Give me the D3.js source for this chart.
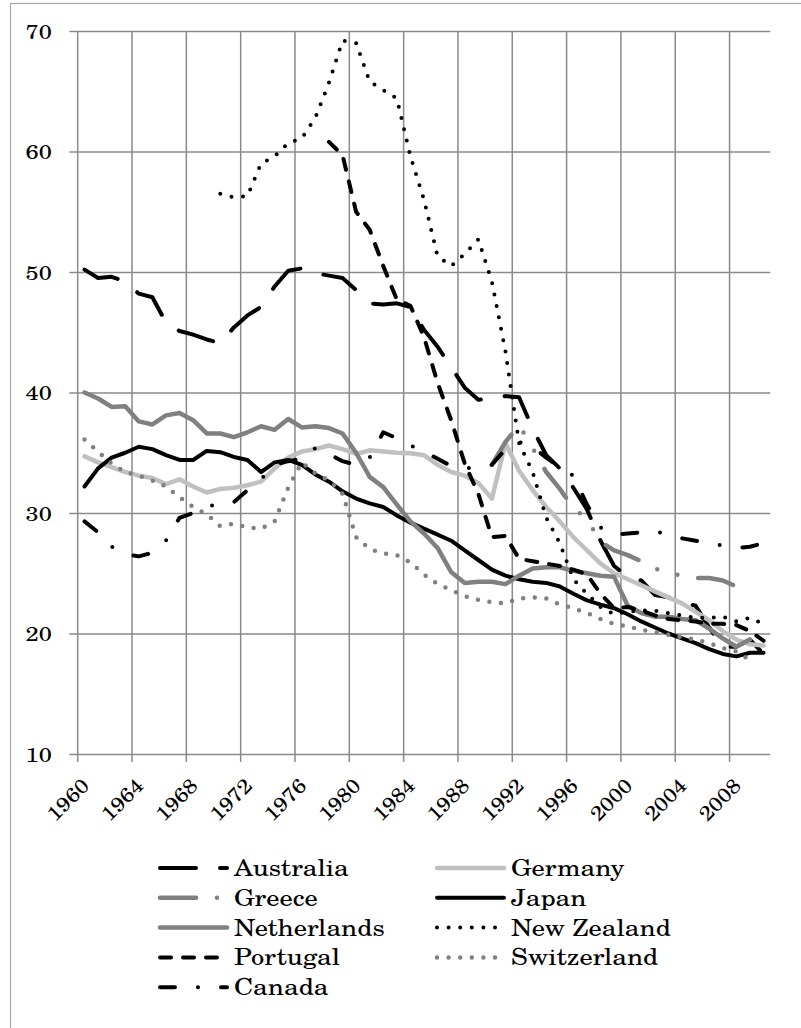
<!DOCTYPE html>
<html><head><meta charset="utf-8">
<script src="https://cdn.jsdelivr.net/npm/d3@7/dist/d3.min.js"></script>
<style>
body{margin:0;background:#fff}
svg{display:block}
</style>
</head><body>
<svg id="chart" width="801" height="1028"></svg>
<script>
// ---- data ----
const years = d3.range(1960, 2011);
const yTickValues = [10, 20, 30, 40, 50, 60, 70];
const xTickLabels = ["1960","1964","1968","1972","1976","1980","1984","1988","1992","1996","2000","2004","2008"];

const australia = [50.2,49.5,49.6,49.2,48.2,47.9,45.8,45.1,44.8,44.4,44.1,45.4,46.4,47.1,48.8,50.1,50.3,49.9,49.7,49.5,48.5,47.4,47.3,47.4,47.1,45.2,43.8,42.1,40.4,39.4,39.5,39.7,39.6,37.0,34.8,33.7,32.1,30.3,27.7,25.6,24.7,24.4,23.2,23.0,22.6,22.3,20.5,18.9,18.9,19.5,18.3];
const germany = [34.7,34.2,33.8,33.4,33.1,32.9,32.4,32.8,32.2,31.7,32.0,32.1,32.3,32.6,33.7,34.6,35.1,35.3,35.6,35.3,34.9,35.2,35.1,35.0,34.95,34.8,34.0,33.4,33.1,32.5,31.2,35.8,33.5,31.9,30.5,29.3,28.0,26.9,25.8,25.0,24.5,24.0,23.5,23.0,22.5,21.8,21.1,20.2,19.5,19.1,19.0];
const greece = [null,null,null,null,null,null,null,null,null,null,null,null,null,null,null,null,null,null,null,null,null,null,null,null,null,null,null,null,null,null,34.0,35.9,37.3,35.4,33.4,32.0,30.4,29.5,27.6,26.9,26.5,26.0,25.4,25.0,24.8,24.6,24.6,24.4,23.9,null,null];
const japan = [32.2,33.7,34.6,35.0,35.5,35.3,34.8,34.4,34.4,35.15,35.05,34.65,34.4,33.4,34.2,34.4,34.0,33.2,32.6,31.8,31.2,30.8,30.5,29.8,29.2,28.7,28.2,27.7,26.9,26.1,25.3,24.8,24.5,24.3,24.2,23.9,23.3,22.75,22.4,22.1,21.6,21.0,20.5,20.0,19.6,19.2,18.7,18.3,18.1,18.4,18.4];
const netherlands = [40.0,39.5,38.8,38.85,37.6,37.35,38.1,38.3,37.7,36.6,36.6,36.3,36.7,37.2,36.9,37.8,37.1,37.2,37.05,36.6,35.0,33.0,32.15,30.7,29.3,28.3,27.1,25.1,24.2,24.3,24.3,24.1,24.8,25.4,25.5,25.5,25.2,25.0,24.8,24.7,22.3,21.7,21.4,21.4,21.2,21.1,20.4,19.6,18.9,19.5,null];
const newZealand = [null,null,null,null,null,null,null,null,null,null,56.5,56.2,56.3,59.0,59.6,60.7,61.1,62.8,65.7,69.2,69.0,65.8,65.1,64.4,59.6,56.0,51.3,50.5,51.5,52.7,49.2,43.4,35.8,33.4,29.6,27.5,24.5,23.3,22.2,21.6,21.8,21.9,21.9,21.7,21.5,21.3,21.3,21.4,21.0,21.3,20.8];
const portugal = [null,null,null,null,null,null,null,null,null,null,null,null,null,null,null,null,null,null,60.8,59.7,55.0,53.5,50.5,47.7,47.2,44.6,40.8,37.7,34.1,31.6,28.0,28.1,26.2,26.0,25.8,25.6,25.3,24.9,23.3,22.1,22.2,21.9,21.5,21.2,21.1,21.0,20.8,20.8,20.7,20.2,19.4];
const switzerland = [36.1,35.1,34.1,33.4,33.1,32.7,32.2,31.3,30.5,29.9,28.9,29.1,28.8,28.7,29.3,32.1,34.2,33.3,32.7,31.6,28.0,27.0,26.65,26.5,25.9,24.9,24.1,23.6,23.1,22.8,22.6,22.5,22.9,23.0,22.9,22.4,22.1,21.7,21.2,20.8,20.6,20.3,20.1,19.9,19.7,19.5,19.2,18.8,18.5,17.8,null];
const canada = [29.3,28.4,27.2,26.6,26.4,26.7,27.7,29.6,30.0,30.5,30.8,30.9,31.9,32.8,34.0,34.3,34.5,35.4,34.9,34.3,34.0,34.6,36.7,36.2,35.6,35.1,34.5,33.9,33.7,33.8,34.0,35.3,35.9,35.5,34.6,33.8,33.1,30.7,28.8,28.2,28.3,28.4,28.5,28.2,27.9,27.7,27.5,27.3,27.1,27.2,27.5];

const seriesNames = ["Australia","Germany","Greece","Japan","Netherlands","New Zealand","Portugal","Switzerland","Canada"];
const seriesValues = [australia, germany, greece, japan, netherlands, newZealand, portugal, switzerland, canada];
const seriesStyles = [
  {color:"#000000", width:4,   dash:"36,24"},
  {color:"#c0c0c0", width:4.5, dash:null},
  {color:"#808080", width:4.5, dash:"36,21,0,21,0,21"},
  {color:"#000000", width:4,   dash:null},
  {color:"#808080", width:4.5, dash:null},
  {color:"#000000", width:4,   dash:"0,11.6"},
  {color:"#000000", width:4,   dash:"11,12"},
  {color:"#808080", width:4.5, dash:"0,11.6"},
  {color:"#000000", width:4,   dash:"15,23,0,23"}
];

const FONT = "'TeX Gyre Schola','Century Schoolbook L','Liberation Serif',serif";

function stretch(sel, factor) {
  sel.each(function () {
    const L = this.getComputedTextLength();
    d3.select(this).attr("textLength", L * factor).attr("lengthAdjust", "spacingAndGlyphs");
  });
}

// ---- layout ----
const svg = d3.select("#chart");
const plotL = 77.7, plotR = 770.3, plotT = 31, plotB = 754;

svg.append("rect").attr("x",10.5).attr("y",3.5).attr("width",1000).attr("height",1100)
  .attr("fill","none").attr("stroke","#a6a6a6").attr("stroke-width",1.2);

const x = d3.scaleBand().domain(years).range([plotL, plotR]).paddingInner(0).paddingOuter(0);
const y = d3.scaleLinear().domain([10, 70]).range([plotB, plotT]);
const gridColor = "#8a8a8a";

// horizontal gridlines + y ticks/labels
const yAxis = d3.axisLeft(y).tickValues(yTickValues).tickSize(plotR - plotL + 8.4).tickPadding(17).tickFormat(d3.format("d"));
const gy = svg.append("g").attr("transform", `translate(${plotR},0)`).call(yAxis);
gy.attr("font-family", FONT).attr("font-size", 20);
gy.select(".domain").remove();
gy.selectAll(".tick line").attr("stroke", gridColor).attr("stroke-width", 1.5);
const yLabels = gy.selectAll(".tick text").attr("font-family", FONT).attr("font-size", 20)
  .attr("x", -(plotR - 51.8)).attr("dy", null).attr("y", 7.3).attr("text-anchor","end").attr("fill","#000");
stretch(yLabels, 1.18);

// vertical gridlines at every 4th category boundary
const gridYears = years.filter(d => (d - 1960) % 4 === 0);
svg.append("g").selectAll("line").data(gridYears).join("line")
  .attr("x1", d => x(d)).attr("x2", d => x(d))
  .attr("y1", plotT).attr("y2", plotB + 8)
  .attr("stroke", gridColor).attr("stroke-width", 1.5);

// x labels (rotated)
const xLabels = svg.append("g").selectAll("text").data(xTickLabels).join("text")
  .attr("transform", d => `translate(${x(+d) + x.bandwidth()/2 + 6},${plotB + 33}) rotate(-45)`)
  .attr("text-anchor", "end").attr("font-family", FONT).attr("font-size", 20).attr("fill","#000").text(d => d);
stretch(xLabels, 1.12);

// lines
const line = d3.line()
  .defined(d => d[1] !== null)
  .x(d => x(d[0]) + x.bandwidth()/2)
  .y(d => y(d[1]));

const lines = svg.append("g");
seriesValues.forEach((vals, i) => {
  const st = seriesStyles[i];
  lines.append("path")
    .datum(years.map((yr, j) => [yr, vals[j]]))
    .attr("d", line)
    .attr("fill", "none")
    .attr("stroke", st.color)
    .attr("stroke-width", st.width)
    .attr("stroke-linecap", "round")
    .attr("stroke-linejoin", "round")
    .attr("stroke-dasharray", st.dash);
});

// legend
const legX = [160, 437], legTextX = [234, 511];
const legY0 = 868, legDY = 29.8;
const leg = svg.append("g");
seriesNames.forEach((name, i) => {
  const col = i % 2, row = Math.floor(i / 2);
  const st = seriesStyles[i];
  const cy = legY0 + row * legDY;
  leg.append("line")
    .attr("x1", legX[col]).attr("x2", legX[col] + 67)
    .attr("y1", cy).attr("y2", cy)
    .attr("stroke", st.color).attr("stroke-width", st.width)
    .attr("stroke-linecap", "round")
    .attr("stroke-dasharray", st.dash);
  const t = leg.append("text").attr("x", legTextX[col]).attr("y", cy + 8)
    .attr("font-family", FONT).attr("font-size", 23).attr("fill","#000").text(name);
  stretch(t, 1.15);
});
</script>
</body></html>
